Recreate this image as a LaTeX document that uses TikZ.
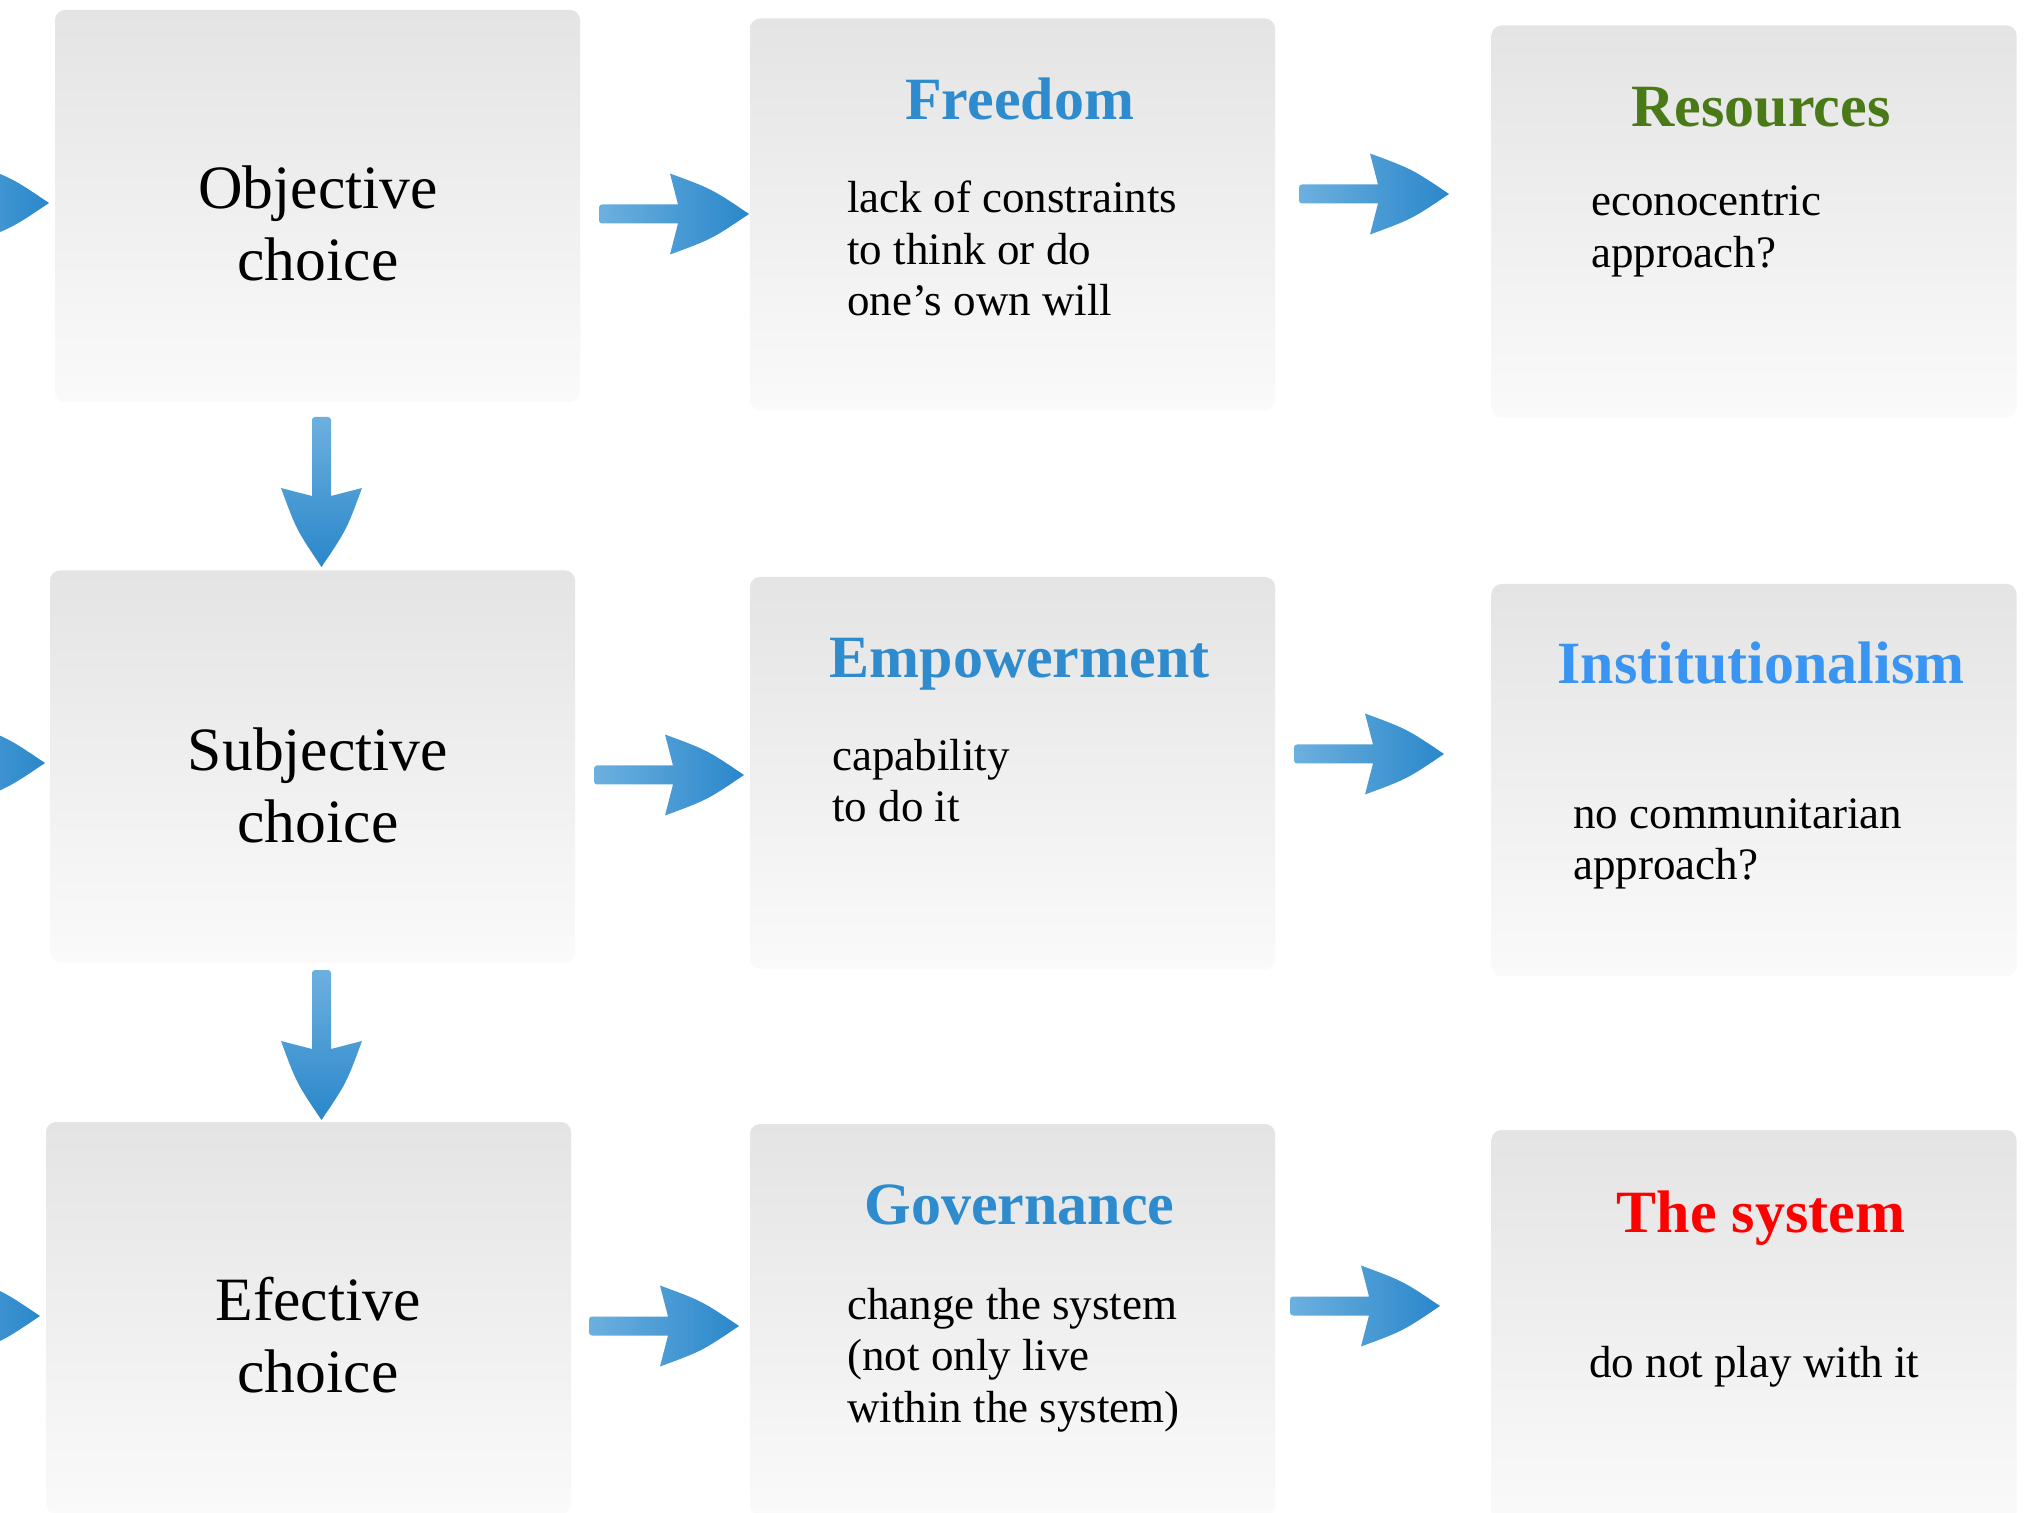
\documentclass[tikz,border=0pt]{standalone}
\usepackage{fontspec}
\setmainfont{Liberation Serif}
\definecolor{boxtop}{HTML}{E4E4E4}
\definecolor{boxbot}{HTML}{FAFAFA}
\definecolor{arlight}{HTML}{6CB0DF}
\definecolor{ardark}{HTML}{2A87CA}
\definecolor{tblue}{HTML}{2E8BCD}
\definecolor{tbright}{HTML}{3A95F2}
\definecolor{tgreen}{HTML}{4A7A18}
\definecolor{tred}{HTML}{FF0000}
\newcommand{\mylines}[1]{\begin{tabular}[t]{@{}l@{}}#1\end{tabular}}
\newcommand{\mycenter}[1]{\begin{tabular}[t]{@{}c@{}}#1\end{tabular}}
\tikzset{
  box/.style={rectangle, rounded corners=5pt, top color=boxtop, bottom color=boxbot,
    draw=none, minimum width=262.5pt, minimum height=196pt, inner sep=0pt},
  bigtext/.style={font=\fontsize{30.8}{36}\selectfont, anchor=base, inner sep=0pt},
  titletext/.style={font=\bfseries\fontsize{30}{36}\selectfont, anchor=base, inner sep=0pt},
  bodytext/.style={font=\fontsize{22.5}{25.75}\selectfont, anchor=base west, inner sep=0pt},
  rarrow/.pic={
    \shade[left color=arlight, right color=ardark]
      (-110,-9.5) -- (-71,-9.5) -- (-79,-40.5) .. controls (-37,-25) .. (0,0)
      .. controls (-37,25) .. (-79,40.5) -- (-71,9.5) [rounded corners=1.5pt] -- (-150,9.5)
      -- (-150,-9.5) [sharp corners] -- cycle;
  },
  darrow/.pic={
    \shade[top color=arlight, bottom color=ardark]
      (-9.5,-110) -- (-9.5,-71) -- (-40.5,-79) .. controls (-25,-37) .. (0,0)
      .. controls (25,-37) .. (40.5,-79) -- (9.5,-71) [rounded corners=1.5pt] -- (9.5,-150)
      -- (-9.5,-150) [sharp corners] -- cycle;
  }
}
\begin{document}
\begin{tikzpicture}[x=0.5pt,y=-0.5pt]
\useasboundingbox (0,0) rectangle (2025,1513);
\clip (0,0) rectangle (2025,1513);
\fill[white] (0,0) rectangle (2025,1513);

% boxes
\node[box] (b11) at (317.5,206) {};
\node[box] (b12) at (1012.5,214.5) {};
\node[box] (b13) at (1754,221.5) {};
\node[box] (b21) at (312.5,766.5) {};
\node[box] (b22) at (1012.5,773) {};
\node[box] (b23) at (1754,780) {};
\node[box] (b31) at (308.5,1318) {};
\node[box] (b32) at (1012.5,1320) {};
\node[box] (b33) at (1754,1326) {};

% left column
\node[bigtext] (obj) at (318,209) {\mycenter{Objective\\choice}};
\node[bigtext] (sub) at (318,770) {\mycenter{Subjective\\choice}};
\node[bigtext] (efe) at (318,1320) {\mycenter{Efective\\choice}};

% titles
\node[titletext, text=tblue] (tfree) at (1019.6,120) {Freedom};
\node[titletext, text=tgreen] (tres) at (1761,127) {Resources};
\node[titletext, text=tblue] (temp) at (1019.6,678) {Empowerment};
\node[titletext, text=tbright] (tinst) at (1761,684) {Institutionalism};
\node[titletext, text=tblue] (tgov) at (1019.6,1224) {Governance};
\node[titletext, text=tred] (tsys) at (1761,1232) {The system};

% bodies
\node[bodytext] (bfree) at (847,213) {\mylines{lack of constraints\\to think or do\\one’s own will}};
\node[bodytext] (bres) at (1591,216) {\mylines{econocentric\\approach?}};
\node[bodytext] (bemp) at (832,770) {\mylines{capability\\to do it}};
\node[bodytext] (binst) at (1573,828) {\mylines{no communitarian\\approach?}};
\node[bodytext] (bgov) at (847,1319) {\mylines{change the system\\(not only live\\within the system)}};
\node[bodytext] (bsys) at (1589,1377) {do not play with it};

% arrow tips
\coordinate (l1) at (49,203);
\coordinate (l2) at (45,763);
\coordinate (l3) at (40,1316);
\coordinate (r11) at (749,214);
\coordinate (r12) at (1449,194);
\coordinate (r21) at (744,775);
\coordinate (r22) at (1444,754);
\coordinate (r31) at (739,1326);
\coordinate (r32) at (1440,1306);
\coordinate (d1) at (321.5,567);
\coordinate (d2) at (321.5,1120);

\pic at (l1) {rarrow};
\pic at (l2) {rarrow};
\pic at (l3) {rarrow};
\pic at (r11) {rarrow};
\pic at (r12) {rarrow};
\pic at (r21) {rarrow};
\pic at (r22) {rarrow};
\pic at (r31) {rarrow};
\pic at (r32) {rarrow};
\pic at (d1) {darrow};
\pic at (d2) {darrow};
\end{tikzpicture}
\end{document}
